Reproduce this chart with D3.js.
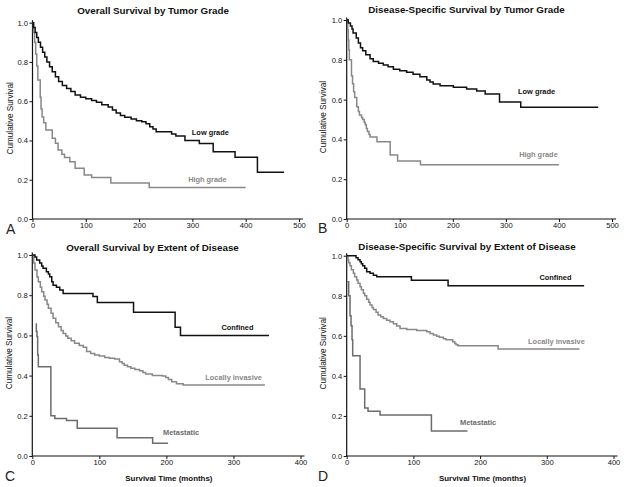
<!DOCTYPE html>
<html><head><meta charset="utf-8">
<script src="https://cdn.jsdelivr.net/npm/d3@7"></script>
<style>
body{margin:0;background:#fff}
svg{display:block}
text{font-family:"Liberation Sans",Arial,Helvetica,sans-serif}
</style>
</head><body>
<svg id="chart" width="624" height="487"></svg>
<script>
// ---------- tick labels / text ----------
const yTicks = [0, 0.2, 0.4, 0.6, 0.8, 1.0];
const xTicksGrade = [0, 100, 200, 300, 400, 500];
const xTicksExtent = [0, 100, 200, 300, 400];
const titles = ["Overall Survival by Tumor Grade", "Disease-Specific Survival by Tumor Grade",
                "Overall Survival by Extent of Disease", "Disease-Specific Survival by Extent of Disease"];
const panelLetters = ["A", "B", "C", "D"];
const gradeNames = ["Low grade", "High grade"];
const extentNames = ["Confined", "Locally invasive", "Metastatic"];
const yAxisTitle = "Cumulative Survival";
const xAxisTitle = "Survival Time (months)";

// ---------- series: [months, cumulative survival] (step after) ----------
const osLowGrade = [[0,1.0],[2,0.975],[5,0.95],[8,0.925],[11,0.90],[15,0.875],[19,0.85],[23,0.825],[27,0.80],[32,0.775],[37,0.75],[43,0.725],[49,0.70],[56,0.68],[64,0.665],[72,0.65],[80,0.632],[90,0.62],[100,0.612],[111,0.604],[120,0.595],[130,0.582],[142,0.57],[150,0.555],[157,0.54],[165,0.527],[173,0.518],[185,0.51],[195,0.50],[205,0.495],[213,0.485],[220,0.47],[226,0.458],[232,0.445],[261,0.433],[269,0.423],[286,0.40],[313,0.385],[339,0.343],[380,0.314],[422,0.238],[472,0.238]];
const osHighGrade = [[0,1.0],[2,0.95],[4,0.90],[6,0.84],[8,0.78],[10,0.708],[14.5,0.62],[16,0.56],[18,0.52],[21,0.49],[25,0.453],[37,0.411],[43,0.386],[48,0.351],[55,0.33],[60,0.313],[70,0.292],[80,0.258],[97,0.224],[111,0.212],[147,0.183],[219,0.161],[400,0.161]];
const dssLowGrade = [[0,1.0],[3,0.985],[7,0.97],[10,0.955],[12,0.935],[18,0.91],[22,0.885],[26,0.86],[30,0.845],[36,0.825],[44,0.805],[50,0.792],[60,0.783],[69,0.774],[78,0.765],[88,0.753],[100,0.745],[113,0.737],[125,0.728],[138,0.715],[151,0.698],[157,0.688],[163,0.678],[176,0.67],[201,0.662],[226,0.653],[245,0.643],[261,0.628],[288,0.588],[328,0.561],[474,0.561]];
const dssHighGrade = [[0,1.0],[2,0.95],[3,0.90],[4,0.85],[5,0.80],[9,0.72],[11,0.68],[13,0.64],[15,0.61],[19,0.564],[22,0.54],[24,0.523],[28,0.51],[30,0.50],[33,0.485],[35,0.474],[37,0.455],[39,0.44],[42,0.425],[44,0.412],[57,0.388],[82,0.322],[96,0.292],[139,0.272],[400,0.272]];
const osConfined = [[0,1.0],[4,0.99],[6.5,0.975],[11,0.96],[14,0.945],[16,0.934],[21,0.917],[24,0.905],[26,0.892],[29,0.867],[31,0.85],[36,0.839],[41,0.826],[46,0.809],[90.5,0.793],[97,0.764],[151,0.715],[213,0.64],[221,0.60],[353,0.60]];
const osLocal = [[0,1.0],[2,0.96],[4,0.925],[7,0.89],[9,0.867],[12,0.84],[14,0.817],[17,0.795],[19,0.776],[22,0.755],[24,0.735],[28,0.71],[31,0.685],[35,0.663],[39,0.643],[43,0.625],[46,0.61],[50,0.597],[53,0.586],[58,0.573],[63,0.561],[70,0.55],[76,0.541],[81,0.52],[87,0.51],[93,0.503],[100,0.497],[108,0.49],[115,0.486],[123,0.482],[130,0.469],[134,0.46],[137,0.452],[142,0.444],[147,0.436],[153,0.43],[160,0.424],[165,0.416],[169,0.408],[179,0.40],[194,0.398],[199,0.39],[203,0.38],[208,0.37],[215,0.36],[225,0.353],[347,0.353]];
const osMetastatic = [[5,0.657],[6,0.62],[7,0.594],[8,0.502],[9,0.444],[27.7,0.2],[33.6,0.187],[51,0.176],[67,0.138],[126.5,0.091],[179.5,0.063],[202.5,0.063]];
const dssConfined = [[0,1.0],[14,0.99],[17,0.98],[20,0.97],[22,0.96],[24,0.95],[27,0.937],[30,0.92],[35,0.912],[40,0.903],[45,0.895],[97,0.878],[152,0.85],[356,0.85]];
const dssLocal = [[0,1.0],[2,0.98],[3,0.965],[5,0.95],[7,0.93],[10,0.912],[12,0.895],[15,0.879],[17,0.862],[20,0.845],[22,0.83],[25,0.812],[27,0.80],[30,0.782],[33,0.768],[35,0.754],[38,0.742],[40,0.732],[44,0.718],[47,0.704],[51,0.695],[55,0.687],[60,0.678],[65,0.67],[70,0.66],[75,0.649],[80,0.637],[90,0.632],[105,0.627],[120,0.62],[125,0.612],[130,0.604],[135,0.598],[139,0.593],[145,0.585],[149,0.58],[159,0.571],[162,0.562],[164,0.555],[167,0.551],[227,0.534],[349,0.534]];
const dssMetastatic = [[1,0.87],[3,0.80],[5,0.70],[6.5,0.65],[8,0.58],[9,0.50],[20,0.335],[27,0.24],[32,0.223],[50,0.205],[127,0.125],[181,0.125]];

// ---------- panel layout ----------
const BLACK = "#111", GRAY = "#888", DGRAY = "#6c6c6c";
const panels = [
  {title: titles[0], letter: panelLetters[0], xr: [32.5, 299], yr: [219, 22.7], xmax: 500, xTicks: xTicksGrade,
   titleX: 153, titleY: 13.5, letterX: 6, letterY: 234, yLabX: 13, xLab: false,
   series: [
     {data: osHighGrade, name: gradeNames[1], color: GRAY, lab: [292, 0.204]},
     {data: osLowGrade, name: gradeNames[0], color: BLACK, lab: [299, 0.443]}]},
  {title: titles[1], letter: panelLetters[1], xr: [346.7, 612], yr: [219, 20], xmax: 500, xTicks: xTicksGrade,
   titleX: 466.5, titleY: 12.5, letterX: 318, letterY: 233, yLabX: 326, xLab: false,
   series: [
     {data: dssHighGrade, name: gradeNames[1], color: GRAY, lab: [325, 0.327]},
     {data: dssLowGrade, name: gradeNames[0], color: BLACK, lab: [323, 0.643]}]},
  {title: titles[2], letter: panelLetters[2], xr: [32.3, 300.5], yr: [456, 255], xmax: 400, xTicks: xTicksExtent,
   titleX: 152.5, titleY: 250.5, letterX: 5, letterY: 481, yLabX: 12, xLab: true,
   series: [
     {data: osMetastatic, name: extentNames[2], color: DGRAY, lab: [195, 0.119]},
     {data: osLocal, name: extentNames[1], color: GRAY, lab: [258, 0.393]},
     {data: osConfined, name: extentNames[0], color: BLACK, lab: [282, 0.642]}]},
  {title: titles[3], letter: panelLetters[3], xr: [346.7, 613.5], yr: [456, 255.7], xmax: 400, xTicks: xTicksExtent,
   titleX: 467, titleY: 249.5, letterX: 318, letterY: 481, yLabX: 326, xLab: true,
   series: [
     {data: dssMetastatic, name: extentNames[2], color: DGRAY, lab: [170, 0.17]},
     {data: dssLocal, name: extentNames[1], color: GRAY, lab: [272, 0.574]},
     {data: dssConfined, name: extentNames[0], color: BLACK, lab: [289, 0.894]}]}
];

const svg = d3.select("#chart");
svg.append("rect").attr("width", 624).attr("height", 487).attr("fill", "#fff");

panels.forEach(p => {
  const g = svg.append("g");
  const x = d3.scaleLinear().domain([0, p.xmax]).range(p.xr);
  const y = d3.scaleLinear().domain([0, 1]).range(p.yr);

  // axes
  const ax = g.append("g").attr("transform", `translate(${x(0)},0)`)
    .call(d3.axisLeft(y).tickValues(yTicks).tickFormat(d3.format(".1f")).tickSize(3).tickSizeOuter(0));
  ax.select(".domain").remove();
  ax.selectAll("line").attr("stroke", "#111");
  ax.selectAll("text").attr("x", -4.5).attr("font-size", 7.6).attr("fill", "#111")
    .attr("font-family", '"Liberation Sans",Arial,sans-serif');

  const bx = g.append("g").attr("transform", `translate(0,${y(0)})`)
    .call(d3.axisBottom(x).tickValues(p.xTicks).tickSize(3).tickSizeOuter(0));
  bx.select(".domain").remove();
  bx.selectAll("line").attr("stroke", "#111");
  bx.selectAll("text").attr("y", 3.5).attr("font-size", 7.6).attr("fill", "#111")
    .attr("font-family", '"Liberation Sans",Arial,sans-serif');

  // axis lines (slightly extended like SPSS)
  g.append("line").attr("x1", x(0)).attr("x2", x(0)).attr("y1", y(0)).attr("y2", y(1) - 2.5)
    .attr("stroke", "#111").attr("stroke-width", 1.2);
  g.append("line").attr("x1", x(0)).attr("x2", x(p.xmax) + 4).attr("y1", y(0)).attr("y2", y(0))
    .attr("stroke", "#111").attr("stroke-width", 1.2);

  // curves
  const line = d3.line().x(d => x(d[0])).y(d => y(d[1])).curve(d3.curveStepAfter);
  p.series.forEach(s => {
    g.append("path").attr("d", line(s.data)).attr("fill", "none")
      .attr("stroke", s.color).attr("stroke-width", 1.5);
    g.append("text").attr("x", x(s.lab[0])).attr("y", y(s.lab[1]) + 2.7)
      .attr("font-size", 7.4).attr("font-weight", "bold").attr("fill", s.color)
      .text(s.name);
  });

  // title
  g.append("text").attr("x", p.titleX).attr("y", p.titleY).attr("text-anchor", "middle")
    .attr("font-size", 9.8).attr("font-weight", "bold").attr("fill", "#111").text(p.title);

  // y-axis title
  const ymid = (p.yr[0] + p.yr[1]) / 2 - 2.5;
  g.append("text").attr("transform", `translate(${p.yLabX},${ymid}) rotate(-90)`)
    .attr("text-anchor", "middle").attr("font-size", 8.2).attr("fill", "#111").text(yAxisTitle);

  // x-axis title
  if (p.xLab) {
    g.append("text").attr("x", (p.xr[0] + p.xr[1]) / 2 + 2.5).attr("y", 481)
      .attr("text-anchor", "middle").attr("font-size", 7.9).attr("font-weight", "bold")
      .attr("fill", "#111").text(xAxisTitle);
  }

  // panel letter
  g.append("text").attr("x", p.letterX).attr("y", p.letterY)
    .attr("font-size", 14).attr("fill", "#222").text(p.letter);
});
</script>
</body></html>
